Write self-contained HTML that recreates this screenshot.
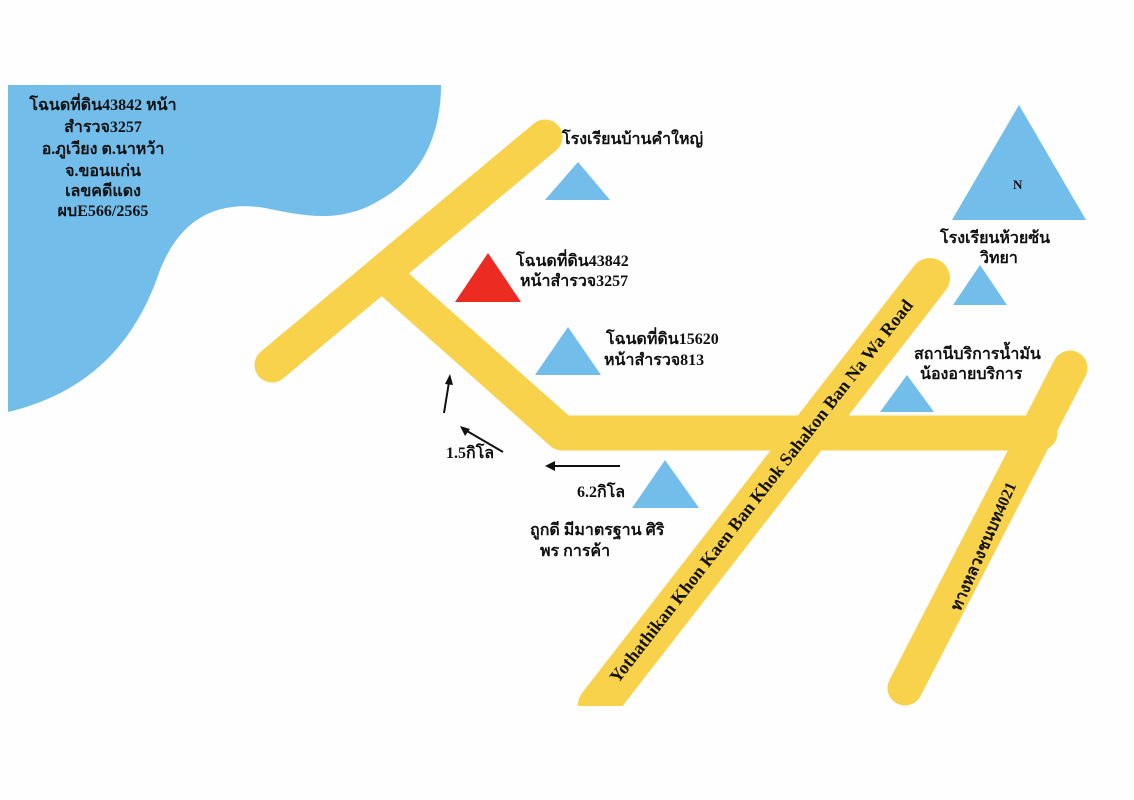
<!DOCTYPE html>
<html><head><meta charset="utf-8"><style>
html,body{margin:0;padding:0;background:#fff;}
svg{display:block}
text{font-family:"Liberation Serif","Noto Serif CJK SC",serif;font-weight:bold;fill:#111;}
</style></head><body>
<svg width="1134" height="800" viewBox="0 0 1134 800" xmlns="http://www.w3.org/2000/svg">
<rect width="1134" height="800" fill="#fefefe"/>
<path d="M8,85 L441,85 C441,130 425,175 380,200 C340,225 300,215 265,208 C215,200 180,220 160,270 C140,330 100,390 8,412 Z" fill="#72bdea"/>
<g stroke="#f9d24c" stroke-width="35" stroke-linecap="round" fill="none">
<line x1="272" y1="365" x2="545" y2="137"/>
<line x1="392" y1="282" x2="562" y2="433"/>
<line x1="562" y1="433" x2="1040" y2="433"/>
<line x1="1070" y1="368" x2="905" y2="688"/>
</g>
<line x1="930" y1="278" x2="598" y2="705" stroke="#f9d24c" stroke-width="40" stroke-linecap="round"/>
<rect x="560" y="706" width="200" height="40" fill="#fefefe"/>
<g fill="#72bdea">
<polygon points="545,200 610,200 578,162"/>
<polygon points="535,375 601,375 568,327"/>
<polygon points="880,412 934,412 907,375"/>
<polygon points="632,508 699,508 665,460"/>
<polygon points="952,220 1086,220 1019,105"/>
<polygon points="953,305 1007,305 980,265"/>
</g>
<polygon points="455,302 521,302 488,253" fill="#ec2b22"/>
<g stroke="#111" stroke-width="2" fill="#111">
<line x1="444" y1="413" x2="449" y2="382"/><polygon points="450,374 445,384 453,385" stroke="none"/>
<line x1="503" y1="452" x2="467" y2="431"/><polygon points="460,426 465,436 470,429" stroke="none"/>
<line x1="620" y1="466" x2="554" y2="466"/><polygon points="545,466 555,461 555,471" stroke="none"/>
</g>
<g font-size="16" text-anchor="middle">
<text x="103" y="110">โฉนดที่ดิน43842 หน้า</text>
<text x="103" y="132">สำรวจ3257</text>
<text x="103" y="154">อ.ภูเวียง ต.นาหว้า</text>
<text x="103" y="176">จ.ขอนแก่น</text>
<text x="103" y="196">เลขคดีแดง</text>
<text x="103" y="216">ผบE566/2565</text>
</g>
<g font-size="16">
<text x="562" y="144">โรงเรียนบ้านคำใหญ่</text>
<text x="516" y="266">โฉนดที่ดิน43842</text>
<text x="520" y="286">หน้าสำรวจ3257</text>
<text x="606" y="344">โฉนดที่ดิน15620</text>
<text x="604" y="365">หน้าสำรวจ813</text>
<text x="914" y="359">สถานีบริการน้ำมัน</text>
<text x="920" y="379">น้องอายบริการ</text>
<text x="940" y="243">โรงเรียนห้วยซ้น</text>
<text x="980" y="263">วิทยา</text>
<text x="446" y="458">1.5กิโล</text>
<text x="577" y="497">6.2กิโล</text>
<text x="530" y="535">ถูกดี มีมาตรฐาน ศิริ</text>
<text x="540" y="556">พร การค้า</text>
<text x="1013" y="189" font-size="13">N</text>
</g>
<text font-size="18" transform="translate(618,684) rotate(-52)">Yothathikan Khon Kaen Ban Khok Sahakon Ban Na Wa Road</text>
<text font-size="16" transform="translate(960,612) rotate(-66)">ทางหลวงชนบท4021</text>
</svg>
</body></html>
